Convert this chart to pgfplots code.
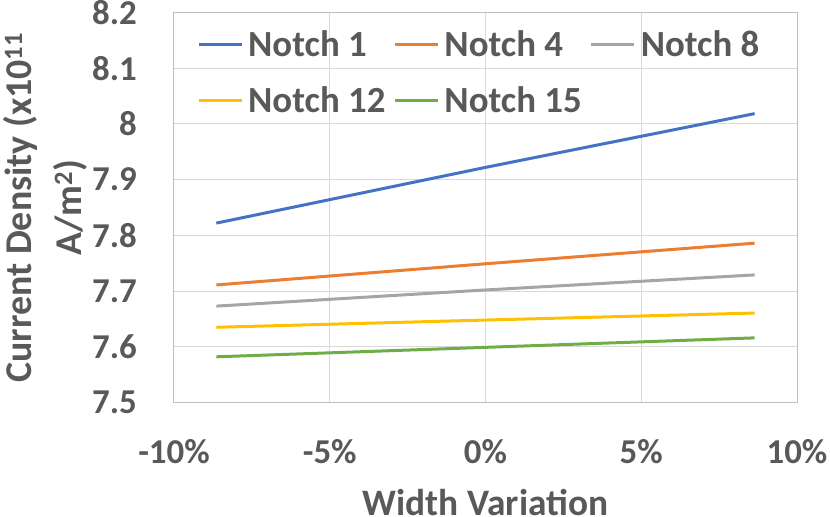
\documentclass[border=0pt]{standalone}
\usepackage{pgfplots}
\pgfplotsset{compat=1.18}
\usepackage{fontspec}
\setmainfont{Carlito}
\definecolor{txt}{HTML}{595959}
\definecolor{gridc}{HTML}{D9D9D9}
\definecolor{axc}{HTML}{BFBFBF}
\definecolor{c1}{HTML}{4472C4}
\definecolor{c2}{HTML}{ED7D31}
\definecolor{c3}{HTML}{A5A5A5}
\definecolor{c4}{HTML}{FFC000}
\definecolor{c5}{HTML}{70AD47}
\begin{document}
\begin{tikzpicture}
\path[use as bounding box] (-174bp,-114.5bp) rectangle (656bp,402.5bp);
\begin{axis}[
  at={(0,0)}, anchor=south west,
  scale only axis, width=623bp, height=390bp,
  xmin=-10, xmax=10, ymin=7.5, ymax=8.2,
  xtick={-10,-5,0,5,10},
  xticklabels={-10\%,-5\%,0\%,5\%,10\%},
  ytick={7.5,7.6,7.7,7.8,7.9,8,8.1,8.2},
  yticklabels={7.5,7.6,7.7,7.8,7.9,8,8.1,8.2},
  major tick length=0pt,
  grid=major,
  major grid style={gridc, line width=1bp},
  axis line style={axc, line width=1bp},
  tick label style={font=\fontsize{35}{40}\selectfont\bfseries, text=txt},
  yticklabel style={anchor=east, inner sep=0pt, xshift=-37bp},
  xticklabel style={anchor=center, inner sep=0pt, yshift=-49bp},
  xlabel={Width Variation},
  xlabel style={font=\fontsize{37.5}{46}\selectfont\bfseries, text=txt, at={(axis description cs:0.5,0)}, anchor=center, yshift=-100bp, inner sep=0pt},
  ylabel={Current Density (x10\textsuperscript{11}\\A/m\textsuperscript{2})},
  ylabel style={font=\fontsize{38}{50}\selectfont\bfseries, text=txt, align=center, at={(axis description cs:-0.1397,0.5)}, anchor=south, rotate=0, inner sep=0pt},
  legend columns=3,
  legend cell align=left,
  legend style={draw=none, fill=none, at={(axis description cs:0.0369,0.9497)}, anchor=north west, inner sep=0pt, row sep=32bp,
    font=\fontsize{37}{46}\selectfont\bfseries, text=txt,
    nodes={inner sep=0pt, text height=24bp, text depth=0pt},
    /tikz/every odd column/.append style={column sep=5bp},
    /tikz/every even column/.append style={column sep=8bp}},
  legend image code/.code={\draw[#1] (0bp,0bp) -- (43bp,0bp);},
  every axis plot/.append style={line width=3bp},
]
\addplot[c1] coordinates {(-8.64,7.822) (0,7.922) (8.64,8.0185)};
\addlegendentry{Notch 1}
\addplot[c2] coordinates {(-8.64,7.711) (0,7.749) (8.64,7.786)};
\addlegendentry{Notch 4}
\addplot[c3] coordinates {(-8.64,7.673) (0,7.702) (8.64,7.729)};
\addlegendentry{Notch 8}
\addplot[c4] coordinates {(-8.64,7.635) (0,7.648) (8.64,7.6606)};
\addlegendentry{Notch 12}
\addplot[c5] coordinates {(-8.64,7.582) (0,7.599) (8.64,7.616)};
\addlegendentry{Notch 15}
\end{axis}
\end{tikzpicture}
\end{document}
